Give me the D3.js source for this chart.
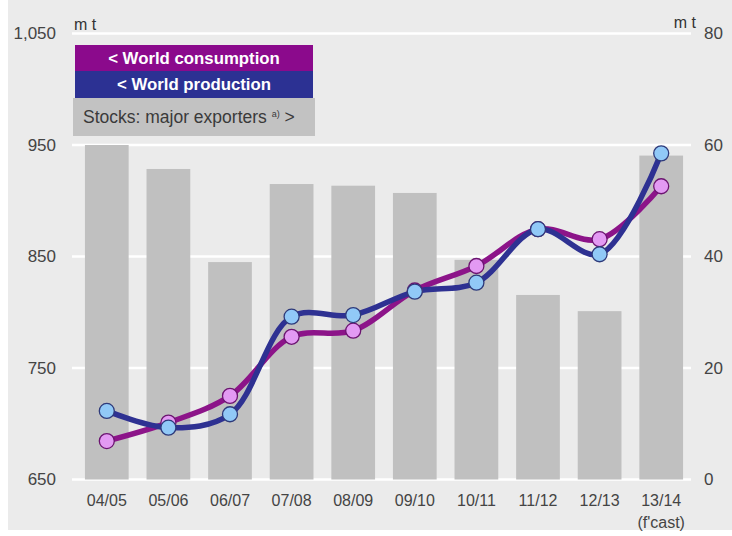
<!DOCTYPE html>
<html>
<head>
<meta charset="utf-8">
<script src="https://cdn.jsdelivr.net/npm/d3@7/dist/d3.min.js"></script>
<style>
  html, body { margin: 0; padding: 0; background: #ffffff; }
  svg { display: block; }
  text { font-family: "Liberation Sans", Arial, sans-serif; }
</style>
</head>
<body>
<svg id="chart" width="732" height="536"></svg>
<script>
// Marketing years
const seasons = ["04/05", "05/06", "06/07", "07/08", "08/09", "09/10", "10/11", "11/12", "12/13", "13/14"];
// Stocks held by the major exporters, million tonnes (right axis)
const stocks = [60, 55.7, 39.0, 53.0, 52.7, 51.4, 39.4, 33.1, 30.2, 58.1];
// World consumption and production, million tonnes (left axis)
const consumption = [684.5, 701, 725, 778, 783.5, 819.5, 841.5, 874.5, 865.5, 913];
const production = [711.5, 696.5, 708.5, 796, 797.5, 818.5, 826.5, 874.5, 852, 942.5];
// Axis ticks
const leftTicks = [650, 750, 850, 950, 1050];
const rightTicks = [0, 20, 40, 60, 80];

const svg = d3.select("#chart");

// Panel background
svg.append("rect").attr("x", 8).attr("y", 0).attr("width", 724).attr("height", 530)
  .attr("fill", "#ebebeb");

const x = d3.scaleBand().domain(seasons).range([76, 692]).paddingInner(0.29).paddingOuter(0.145);
const yL = d3.scaleLinear().domain([650, 1050]).range([479.5, 33.5]);
const yR = d3.scaleLinear().domain([0, 80]).range([479.5, 33.5]);

// Gridlines
svg.append("g").selectAll("line").data(leftTicks).join("line")
  .attr("x1", 72).attr("x2", 691)
  .attr("y1", d => yL(d)).attr("y2", d => yL(d))
  .attr("stroke", "#ffffff").attr("stroke-width", 2.5);

// Stock bars
svg.append("g").selectAll("rect").data(seasons).join("rect")
  .attr("x", d => x(d))
  .attr("width", x.bandwidth())
  .attr("y", (d, i) => yR(stocks[i]))
  .attr("height", (d, i) => yR(0) - yR(stocks[i]))
  .attr("fill", "#c0c0c0");

// Left axis labels
const leftAxis = d3.axisLeft(yL).tickValues(leftTicks).tickFormat(d3.format(",")).tickSize(0).tickPadding(0);
const gl = svg.append("g").attr("transform", "translate(56,0)").call(leftAxis);
gl.select(".domain").remove();
gl.selectAll("text").attr("font-size", 17).attr("fill", "#444").attr("font-family", "Liberation Sans, Arial, sans-serif");

// Right axis labels
const rightAxis = d3.axisRight(yR).tickValues(rightTicks).tickSize(0).tickPadding(0);
const gr = svg.append("g").attr("transform", "translate(704,0)").call(rightAxis);
gr.select(".domain").remove();
gr.selectAll("text").attr("font-size", 17).attr("fill", "#444").attr("font-family", "Liberation Sans, Arial, sans-serif");

// Category labels
const bottomAxis = d3.axisBottom(x).tickSize(0).tickPadding(0);
const gb = svg.append("g").attr("transform", "translate(0,495)").call(bottomAxis);
gb.select(".domain").remove();
gb.selectAll("text").attr("font-size", 16).attr("fill", "#444").attr("dy", "0.71em")
  .attr("font-family", "Liberation Sans, Arial, sans-serif");
svg.append("text").attr("x", x("13/14") + x.bandwidth() / 2).attr("y", 528)
  .attr("text-anchor", "middle").attr("font-size", 16).attr("fill", "#444").text("(f'cast)");

// Units
svg.append("text").attr("x", 74).attr("y", 30).attr("font-size", 16).attr("fill", "#333").text("m t");
svg.append("text").attr("x", 696).attr("y", 28).attr("text-anchor", "end").attr("font-size", 16).attr("fill", "#333").text("m t");

// Lines
const cx = d => x(d) + x.bandwidth() / 2;
const line = vals => d3.line()
  .x((d, i) => cx(seasons[i]))
  .y(d => yL(d))
  .curve(d3.curveCatmullRom.alpha(0.5))(vals);

svg.append("path").attr("d", line(consumption)).attr("fill", "none")
  .attr("stroke", "#8c1489").attr("stroke-width", 5.5).attr("stroke-linejoin", "round");
svg.append("path").attr("d", line(production)).attr("fill", "none")
  .attr("stroke", "#2e3192").attr("stroke-width", 5.5).attr("stroke-linejoin", "round");

svg.append("g").selectAll("circle").data(consumption).join("circle")
  .attr("cx", (d, i) => cx(seasons[i])).attr("cy", d => yL(d)).attr("r", 7.5)
  .attr("fill", "#e39af3").attr("stroke", "#6b1470").attr("stroke-width", 1.3);
svg.append("g").selectAll("circle").data(production).join("circle")
  .attr("cx", (d, i) => cx(seasons[i])).attr("cy", d => yL(d)).attr("r", 7.5)
  .attr("fill", "#91c9f7").attr("stroke", "#2e3a7a").attr("stroke-width", 1.3);

// Legend
const legend = svg.append("g");
legend.append("rect").attr("x", 75).attr("y", 45).attr("width", 238).attr("height", 26).attr("fill", "#8b0a8c");
legend.append("rect").attr("x", 75).attr("y", 71).attr("width", 238).attr("height", 27).attr("fill", "#2c3193");
legend.append("rect").attr("x", 73).attr("y", 98).attr("width", 242).attr("height", 38).attr("fill", "#c2c2c2");
legend.append("text").attr("x", 194).attr("y", 64).attr("text-anchor", "middle")
  .attr("font-size", 16.8).attr("font-weight", "bold").attr("fill", "#ffffff").text("< World consumption");
legend.append("text").attr("x", 194).attr("y", 90).attr("text-anchor", "middle")
  .attr("font-size", 16.8).attr("font-weight", "bold").attr("fill", "#ffffff").text("< World production");
const st = legend.append("text").attr("x", 83).attr("y", 123).attr("font-size", 17.5).attr("fill", "#3a3a3a");
st.append("tspan").text("Stocks: major exporters ");
st.append("tspan").attr("font-size", 9).attr("dy", -6).text("a)");
st.append("tspan").attr("dy", 6).text(" >");
</script>
</body>
</html>
